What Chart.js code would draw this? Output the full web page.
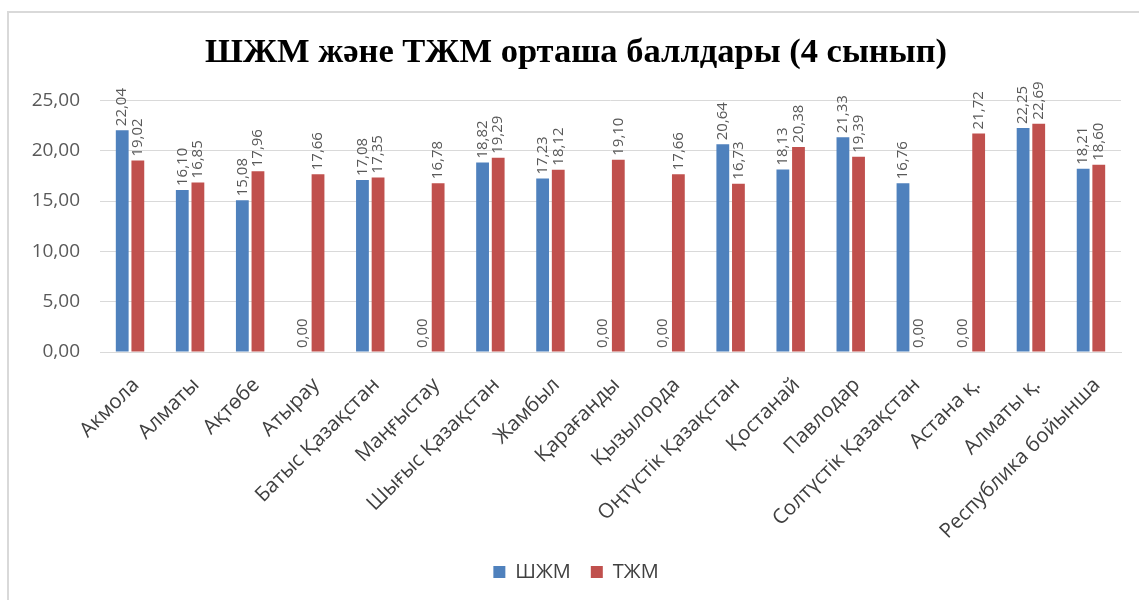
<!DOCTYPE html>
<html>
<head>
<meta charset="utf-8">
<script src="https://cdn.jsdelivr.net/npm/chart.js@4.4.1/dist/chart.umd.min.js"></script>
<style>
  html, body { margin: 0; padding: 0; background: #fff; overflow: hidden; }
  #frame {
    position: absolute; left: 7px; top: 11px;
    width: 1132px; height: 589px;
    border-left: 2px solid #d9d9d9; border-top: 2px solid #d9d9d9;
  }
  #chart { display: block; }
</style>
</head>
<body>
<div id="frame"><canvas id="chart" width="1130" height="587"></canvas></div>
<script>
// ── DATA ──────────────────────────────────────────────────────────────
const regions = [
  'Акмола', 'Алматы', 'Ақтөбе', 'Атырау', 'Батыс Қазақстан', 'Маңғыстау',
  'Шығыс Қазақстан', 'Жамбыл', 'Қарағанды', 'Қызылорда', 'Оңтүстік Қазақстан',
  'Қостанай', 'Павлодар', 'Солтүстік Қазақстан', 'Астана қ.', 'Алматы қ.',
  'Республика бойынша'
];
const shzhmScores = [22.04, 16.10, 15.08, 0.00, 17.08, 0.00, 18.82, 17.23, 0.00, 0.00, 20.64, 18.13, 21.33, 16.76, 0.00, 22.25, 18.21];
const tzhmScores  = [19.02, 16.85, 17.96, 17.66, 17.35, 16.78, 19.29, 18.12, 19.10, 17.66, 16.73, 20.38, 19.39, 0.00, 21.72, 22.69, 18.60];
const yTickValues = [0, 5, 10, 15, 20, 25];

const BLUE = '#4f81bd';
const RED  = '#c0504d';
const GRID = '#d9d9d9';
const FONT = "'Open Sans', 'DejaVu Sans', sans-serif";

const fmt = v => v.toFixed(2).replace('.', ',');

// rotated value labels above each bar
const barLabels = {
  id: 'barLabels',
  afterDatasetsDraw(chart) {
    const ctx = chart.ctx;
    ctx.save();
    ctx.font = '15px ' + FONT;
    ctx.fillStyle = '#595959';
    ctx.textAlign = 'left';
    ctx.textBaseline = 'middle';
    chart.data.datasets.forEach((ds, i) => {
      chart.getDatasetMeta(i).data.forEach((bar, j) => {
        ctx.save();
        ctx.translate(bar.x, bar.y - 4);
        ctx.rotate(-Math.PI / 2);
        ctx.fillText(fmt(ds.data[j]), 0, 0);
        ctx.restore();
      });
    });
    ctx.restore();
  }
};

new Chart(document.getElementById('chart'), {
  type: 'bar',
  data: {
    labels: regions,
    datasets: [
      { label: 'ШЖМ', data: shzhmScores, backgroundColor: BLUE },
      { label: 'ТЖМ', data: tzhmScores, backgroundColor: RED }
    ]
  },
  options: {
    responsive: false,
    animation: false,
    layout: { padding: { left: 22, right: 18, top: 0, bottom: 8 } },
    datasets: { bar: { categoryPercentage: 0.52, barPercentage: 0.82 } },
    plugins: {
      title: {
        display: true,
        text: 'ШЖМ және ТЖМ орташа баллдары (4 сынып)',
        color: '#000',
        font: { family: "'Liberation Serif', 'Times New Roman', serif", size: 34.5, weight: 'bold' },
        padding: { top: 19, bottom: 27 }
      },
      legend: {
        position: 'bottom',
        labels: {
          color: '#404040',
          font: { family: FONT, size: 20 },
          boxWidth: 12, boxHeight: 12, padding: 20
        }
      },
      tooltip: { enabled: false }
    },
    scales: {
      x: {
        grid: { display: false },
        border: { color: GRID },
        ticks: {
          color: '#404040',
          font: { family: FONT, size: 20.5 },
          minRotation: 45, maxRotation: 45,
          autoSkip: false, padding: 13, labelOffset: 6
        },
        afterFit: s => { s.height = 190; }
      },
      y: {
        min: 0, max: 25,
        afterBuildTicks: s => { s.ticks = yTickValues.map(v => ({ value: v })); },
        grid: { color: GRID, drawTicks: false },
        border: { display: false },
        ticks: {
          color: '#595959',
          font: { family: FONT, size: 19 },
          padding: 20,
          callback: v => fmt(v)
        },
        afterFit: s => { s.width = 69; }
      }
    }
  },
  plugins: [barLabels]
});
</script>
</body>
</html>
